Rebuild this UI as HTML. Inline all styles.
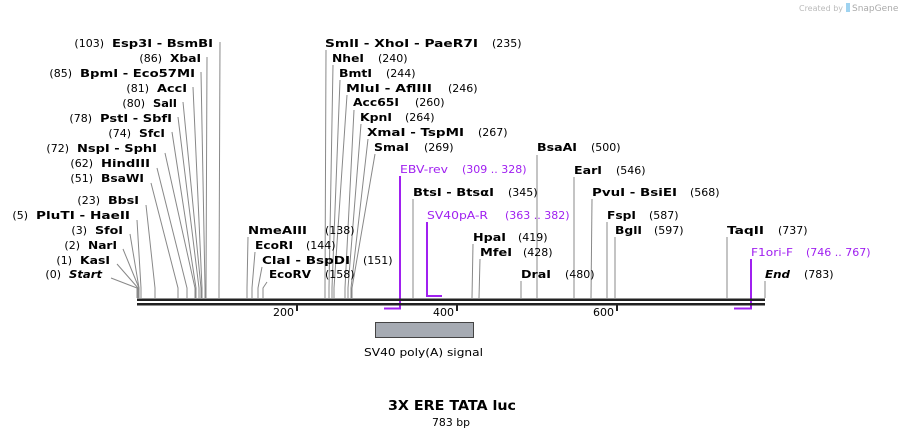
<!DOCTYPE html>
<html><head><meta charset="utf-8"><style>
html,body{margin:0;padding:0;background:#fff;}
svg{display:block;}
text{font-family:"DejaVu Sans","Liberation Sans",sans-serif;font-size:11px;fill:#000;}
.b{font-weight:bold;}
.p{fill:#a020f0;}
.l{stroke:#888;stroke-width:1;fill:none;}
.pl{stroke:#a020f0;stroke-width:2;fill:none;}
</style></head><body>
<svg width="903" height="438" viewBox="0 0 903 438" xmlns="http://www.w3.org/2000/svg">
<text x="843" y="11" text-anchor="end" style="font-size:8px;fill:#bbb">Created by</text>
<rect x="846" y="3" width="4" height="9" fill="#9fd3f0"/>
<text x="852" y="11" style="font-size:9px;fill:#aaa">SnapGene</text>

<g class="l">
<polyline points="220,42 219,288 219,298"/>
<polyline points="207,57 206,288 206,298"/>
<polyline points="201,72 205,288 205,298"/>
<polyline points="193,87 202,288 202,298"/>
<polyline points="183,102 201,288 201,298"/>
<polyline points="178,117 199,288 199,298"/>
<polyline points="172,132 196,288 196,298"/>
<polyline points="165,153 195,288 195,298"/>
<polyline points="157,168 187,288 187,298"/>
<polyline points="151,183 178,288 178,298"/>
<polyline points="146,205 155,288 155,298"/>
<polyline points="137,220 141,288 141,298"/>
<polyline points="130,234 139,288 139,298"/>
<polyline points="123,249 139,288 139,298"/>
<polyline points="117,264 138,288 138,298"/>
<polyline points="111,278 137,288 137,298"/>
</g>
<g text-anchor="end">
<text class="b" x="213" y="47" textLength="101" lengthAdjust="spacingAndGlyphs">Esp3I - BsmBI</text><text x="104" y="47">(103)</text>
<text class="b" x="201" y="62" textLength="31" lengthAdjust="spacingAndGlyphs">XbaI</text><text x="162" y="62">(86)</text>
<text class="b" x="195" y="77" textLength="115" lengthAdjust="spacingAndGlyphs">BpmI - Eco57MI</text><text x="72" y="77">(85)</text>
<text class="b" x="187" y="92" textLength="30" lengthAdjust="spacingAndGlyphs">AccI</text><text x="149" y="92">(81)</text>
<text class="b" x="177" y="107" textLength="24" lengthAdjust="spacingAndGlyphs">SalI</text><text x="145" y="107">(80)</text>
<text class="b" x="172" y="122" textLength="72" lengthAdjust="spacingAndGlyphs">PstI - SbfI</text><text x="92" y="122">(78)</text>
<text class="b" x="165" y="137" textLength="26" lengthAdjust="spacingAndGlyphs">SfcI</text><text x="131" y="137">(74)</text>
<text class="b" x="157" y="152" textLength="80" lengthAdjust="spacingAndGlyphs">NspI - SphI</text><text x="69" y="152">(72)</text>
<text class="b" x="150" y="167" textLength="49" lengthAdjust="spacingAndGlyphs">HindIII</text><text x="93" y="167">(62)</text>
<text class="b" x="144" y="182" textLength="43" lengthAdjust="spacingAndGlyphs">BsaWI</text><text x="93" y="182">(51)</text>
<text class="b" x="139" y="204" textLength="31" lengthAdjust="spacingAndGlyphs">BbsI</text><text x="100" y="204">(23)</text>
<text class="b" x="130" y="219" textLength="94" lengthAdjust="spacingAndGlyphs">PluTI  - HaeII</text><text x="28" y="219">(5)</text>
<text class="b" x="123" y="234" textLength="28" lengthAdjust="spacingAndGlyphs">SfoI</text><text x="87" y="234">(3)</text>
<text class="b" x="117" y="249" textLength="29" lengthAdjust="spacingAndGlyphs">NarI</text><text x="80" y="249">(2)</text>
<text class="b" x="110" y="264" textLength="30" lengthAdjust="spacingAndGlyphs">KasI</text><text x="72" y="264">(1)</text>
<text class="b" x="102" y="278" font-style="italic" textLength="33" lengthAdjust="spacingAndGlyphs">Start</text><text x="61" y="278">(0)</text>
</g>

<g class="l">
<polyline points="326,50 325,288 325,298"/>
<polyline points="333,65 329,288 329,298"/>
<polyline points="340,80 332,288 332,298"/>
<polyline points="347,95 334,288 334,298"/>
<polyline points="354,110 345,288 345,298"/>
<polyline points="361,124 348,288 348,298"/>
<polyline points="368,139 351,288 351,298"/>
<polyline points="375,154 352,288 352,298"/>
<polyline points="248,237 247,288 247,298"/>
<polyline points="255,252 252,288 252,298"/>
<polyline points="262,267 258,288 258,298"/>
<polyline points="267,282 263,288 263,298"/>
<polyline points="413,199 413,298"/>
<polyline points="473,244 472,298"/>
<polyline points="480,259 479,298"/>
<polyline points="521,281 521,298"/>
<polyline points="537,155 537,298"/>
<polyline points="574,177 574,298"/>
<polyline points="592,199 591,298"/>
<polyline points="607,222 607,298"/>
<polyline points="615,237 615,298"/>
<polyline points="727,237 727,298"/>
<polyline points="765,281 765,298"/>
</g>
<g class="b">
<text class="b" x="325" y="47" textLength="153" lengthAdjust="spacingAndGlyphs">SmlI - XhoI - PaeR7I</text>
<text class="b" x="332" y="62" textLength="32" lengthAdjust="spacingAndGlyphs">NheI</text>
<text class="b" x="339" y="77" textLength="33" lengthAdjust="spacingAndGlyphs">BmtI</text>
<text class="b" x="346" y="92" textLength="86" lengthAdjust="spacingAndGlyphs">MluI - AflIII</text>
<text class="b" x="353" y="106" textLength="46" lengthAdjust="spacingAndGlyphs">Acc65I</text>
<text class="b" x="360" y="121" textLength="32" lengthAdjust="spacingAndGlyphs">KpnI</text>
<text class="b" x="367" y="136" textLength="97" lengthAdjust="spacingAndGlyphs">XmaI - TspMI</text>
<text class="b" x="374" y="151" textLength="35" lengthAdjust="spacingAndGlyphs">SmaI</text>
<text class="b" x="248" y="234" textLength="59" lengthAdjust="spacingAndGlyphs">NmeAIII</text>
<text class="b" x="255" y="249" textLength="38" lengthAdjust="spacingAndGlyphs">EcoRI</text>
<text class="b" x="262" y="264" textLength="88" lengthAdjust="spacingAndGlyphs">ClaI - BspDI</text>
<text class="b" x="269" y="278" textLength="42" lengthAdjust="spacingAndGlyphs">EcoRV</text>
<text class="b" x="413" y="196" textLength="81" lengthAdjust="spacingAndGlyphs">BtsI - BtsαI</text>
<text class="b" x="473" y="241" textLength="33" lengthAdjust="spacingAndGlyphs">HpaI</text>
<text class="b" x="480" y="256" textLength="32" lengthAdjust="spacingAndGlyphs">MfeI</text>
<text class="b" x="521" y="278" textLength="30" lengthAdjust="spacingAndGlyphs">DraI</text>
<text class="b" x="537" y="151" textLength="40" lengthAdjust="spacingAndGlyphs">BsaAI</text>
<text class="b" x="574" y="174" textLength="28" lengthAdjust="spacingAndGlyphs">EarI</text>
<text class="b" x="592" y="196" textLength="85" lengthAdjust="spacingAndGlyphs">PvuI - BsiEI</text>
<text class="b" x="607" y="219" textLength="29" lengthAdjust="spacingAndGlyphs">FspI</text>
<text class="b" x="615" y="234" textLength="27" lengthAdjust="spacingAndGlyphs">BglI</text>
<text class="b" x="727" y="234" textLength="37" lengthAdjust="spacingAndGlyphs">TaqII</text>
<text class="b" x="765" y="278" font-style="italic" textLength="25" lengthAdjust="spacingAndGlyphs">End</text>
</g>
<text x="492" y="47">(235)</text>
<text x="378" y="62">(240)</text>
<text x="386" y="77">(244)</text>
<text x="448" y="92">(246)</text>
<text x="415" y="106">(260)</text>
<text x="405" y="121">(264)</text>
<text x="478" y="136">(267)</text>
<text x="424" y="151">(269)</text>
<text x="325" y="234">(138)</text>
<text x="306" y="249">(144)</text>
<text x="363" y="264">(151)</text>
<text x="325" y="278">(158)</text>
<text x="508" y="196">(345)</text>
<text x="518" y="241">(419)</text>
<text x="523" y="256">(428)</text>
<text x="565" y="278">(480)</text>
<text x="591" y="151">(500)</text>
<text x="616" y="174">(546)</text>
<text x="690" y="196">(568)</text>
<text x="649" y="219">(587)</text>
<text x="654" y="234">(597)</text>
<text x="778" y="234">(737)</text>
<text x="804" y="278">(783)</text>

<polyline class="pl" points="400,176 400,308.5 384,308.5"/>
<polyline class="pl" points="427,222 427,296 442,296"/>
<polyline class="pl" points="751,259 751,308.5 734,308.5"/>
<text class="p" x="400" y="173" textLength="48" lengthAdjust="spacingAndGlyphs">EBV-rev</text><text class="p" x="462" y="173">(309 .. 328)</text>
<text class="p" x="427" y="219" textLength="61" lengthAdjust="spacingAndGlyphs">SV40pA-R</text><text class="p" x="505" y="219">(363 .. 382)</text>
<text class="p" x="751" y="256" textLength="42" lengthAdjust="spacingAndGlyphs">F1ori-F</text><text class="p" x="806" y="256">(746 .. 767)</text>

<rect x="137" y="298.5" width="628" height="2.5" fill="#222"/>
<rect x="137" y="303" width="628" height="2.5" fill="#222"/>
<rect x="296" y="305" width="2" height="6" fill="#222"/>
<rect x="456" y="305" width="2" height="6" fill="#222"/>
<rect x="616" y="305" width="2" height="6" fill="#222"/>
<text x="294" y="316" text-anchor="end">200</text>
<text x="454" y="316" text-anchor="end">400</text>
<text x="614" y="316" text-anchor="end">600</text>

<rect x="375.5" y="322.5" width="98" height="15" fill="#a6abb3" stroke="#444" stroke-width="1"/>
<text x="364" y="356" textLength="119" lengthAdjust="spacingAndGlyphs">SV40 poly(A) signal</text>

<text class="b" x="388" y="410" style="font-size:13px" textLength="128" lengthAdjust="spacingAndGlyphs">3X ERE TATA luc</text>
<text x="432" y="426" textLength="38" lengthAdjust="spacingAndGlyphs">783 bp</text>
</svg>
</body></html>
